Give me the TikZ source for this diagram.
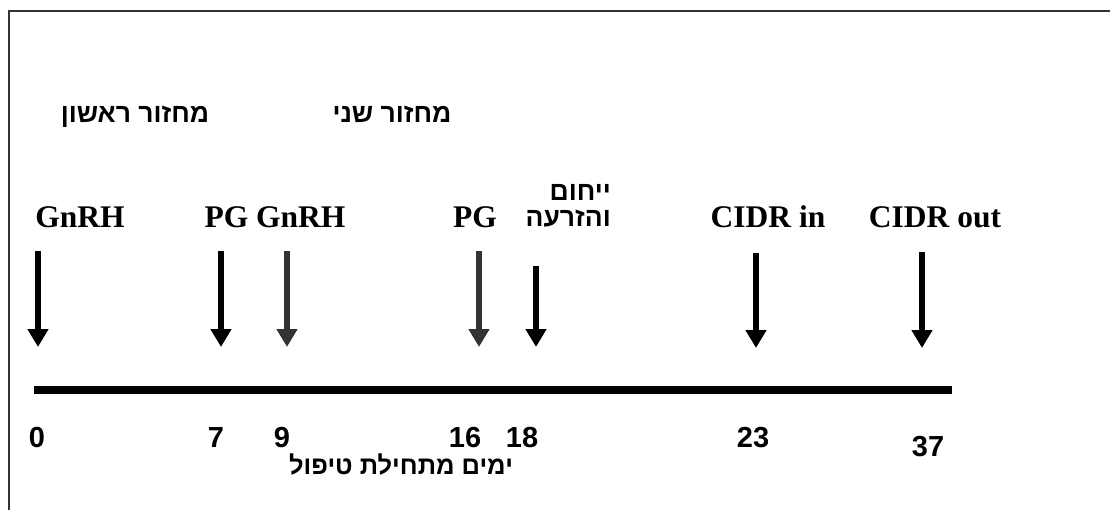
\documentclass[tikz,border=0pt]{standalone}
\usepackage{fontspec}
\usetikzlibrary{arrows.meta}
\TeXXeTstate=1
\newfontfamily\heb[Script=Hebrew]{Liberation Sans}
\newfontfamily\tms{Liberation Serif}
\newfontfamily\ari{Liberation Sans}
\definecolor{darkgr}{HTML}{333333}
\begin{document}
\begin{tikzpicture}[x=1pt,y=-1pt,
  toplab/.style={font=\tms\bfseries\fontsize{31.5}{34}\selectfont, inner sep=0pt, anchor=base},
  hlab/.style={font=\heb\bfseries\fontsize{26.5}{26}\selectfont, inner sep=0pt, anchor=base},
  num/.style={font=\ari\bfseries\fontsize{29}{30}\selectfont, inner sep=0pt, anchor=base},
  darr/.style={line width=6pt, -{Triangle[width=20pt,length=18pt]}, shorten >=0pt},
]
\useasboundingbox (0,0) rectangle (1110,510);
% frame
\coordinate (fbl) at (9,510);
\coordinate (ftl) at (9,11);
\coordinate (ftr) at (1110,11);
\draw[line width=2pt, darkgr] (fbl) -- (ftl) -- (ftr);
% cycle labels
\node[hlab] (c1) at (135,123) {\beginR מחזור ראשון\endR};
\node[hlab] (c2) at (392,123) {\beginR מחזור שני\endR};
% top labels
\node[toplab] (l0) at (80,228) {GnRH};
\node[toplab] (l79) at (275,228) {PG GnRH};
\node[toplab] (l16) at (475,228) {PG};
\node[hlab, anchor=base east] (l18) at (611,201) {\beginR ייחום\endR};
\node[hlab, anchor=base east] (l18b) at (611,227) {\beginR והזרעה\endR};
\node[toplab] (l23) at (768,228) {CIDR in};
\node[toplab] (l37) at (935,228) {CIDR out};
% arrow coordinates
\coordinate (a0s) at (38,251);   \coordinate (a0e) at (38,347);
\coordinate (a7s) at (221,251);  \coordinate (a7e) at (221,347);
\coordinate (a9s) at (287,251);  \coordinate (a9e) at (287,347);
\coordinate (a16s) at (479,251); \coordinate (a16e) at (479,347);
\coordinate (a18s) at (536,266); \coordinate (a18e) at (536,347);
\coordinate (a23s) at (756,253); \coordinate (a23e) at (756,348);
\coordinate (a37s) at (922,252); \coordinate (a37e) at (922,348);
\draw[darr, black] (a0s) -- (a0e);
\draw[darr, black] (a7s) -- (a7e);
\draw[darr, darkgr] (a9s) -- (a9e);
\draw[darr, darkgr] (a16s) -- (a16e);
\draw[darr, black] (a18s) -- (a18e);
\draw[darr, black] (a23s) -- (a23e);
\draw[darr, black] (a37s) -- (a37e);
% timeline
\coordinate (ts) at (34,390);
\coordinate (te) at (952,390);
\draw[line width=8pt, black] (ts) -- (te);
% numbers
\node[num] (n0) at (37,447) {0};
\node[num] (n7) at (216,447) {7};
\node[num] (n9) at (282,447) {9};
\node[num] (n16) at (465,447) {16};
\node[num] (n18) at (522,447) {18};
\node[num] (n23) at (753,447) {23};
\node[num] (n37) at (928,456) {37};
\node[hlab, font=\heb\bfseries\fontsize{25.5}{26}\selectfont] (days) at (401,474) {\beginR ימים מתחילת טיפול\endR};
\end{tikzpicture}
\end{document}
